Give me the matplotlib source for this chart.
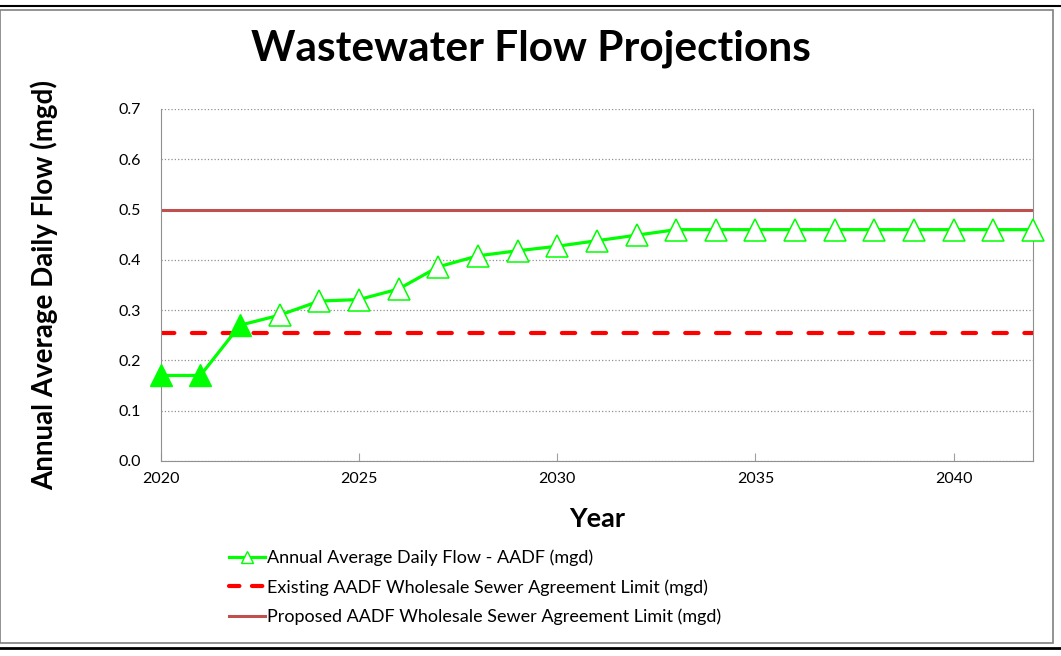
"""Wastewater flow projections chart."""

import matplotlib.pyplot as plt
import numpy as np
from matplotlib.patches import Rectangle
from matplotlib.lines import Line2D

years = np.arange(2020, 2043)
aadf = [0.17, 0.17, 0.27, 0.29, 0.318, 0.321, 0.342, 0.386, 0.408, 0.418,
        0.427, 0.438, 0.449, 0.46, 0.46, 0.46, 0.46, 0.46, 0.46, 0.46,
        0.46, 0.46, 0.46]
# first three years are historic (filled markers)
n_filled = 3
existing_limit = 0.254
proposed_limit = 0.5

plt.rcParams['font.family'] = ['Lato', 'DejaVu Sans']

fig = plt.figure(figsize=(10.61, 6.56), dpi=100)
ax = fig.add_axes([0.1515, 0.2973, 0.8221, 0.5366])

green = '#00ff00'
ax.plot(years, aadf, color=green, lw=2.3, zorder=3, clip_on=False)
ax.plot(years[:n_filled], aadf[:n_filled], ls='none', marker='^', ms=16,
        mfc=green, mec=green, zorder=4, clip_on=False)
ax.plot(years[n_filled:], aadf[n_filled:], ls='none', marker='^', ms=16,
        mfc='white', mec=green, mew=1.1, zorder=4, clip_on=False)

ax.axhline(existing_limit, color='#ff0000', lw=3, dashes=(3.2, 4.2),
           dash_capstyle='round', zorder=2)
ax.axhline(proposed_limit, color='#c0504d', lw=2.2, zorder=2)

ax.set_xlim(2020, 2042)
ax.set_ylim(0, 0.7)
ax.set_xticks(np.arange(2020, 2041, 5))
ax.set_yticks(np.arange(0, 0.71, 0.1))
ax.set_yticklabels([f'{v:.1f}' for v in np.arange(0, 0.71, 0.1)])
ax.tick_params(axis='x', direction='in', length=6, color='#a0a0a0',
               labelsize=11.5, pad=8)
ax.tick_params(axis='y', length=0, labelsize=11.5, pad=14)
ax.grid(axis='y', ls=':', color='#909090', lw=0.9)
for s in ax.spines.values():
    s.set_color('#909090')
ax.spines['top'].set_visible(False)

ax.set_xlabel('Year', fontsize=19.5, fontweight='bold', labelpad=15)
ax.set_ylabel('Annual Average Daily Flow (mgd)', fontsize=20,
              fontweight='bold', labelpad=44)
fig.text(0.5, 0.926, 'Wastewater Flow Projections', ha='center', va='center',
         fontsize=30.5, fontweight='bold')

handles = [
    Line2D([], [], color=green, lw=2.3, marker='^', ms=8, mfc='white',
           mec=green),
    Line2D([], [], color='#ff0000', lw=3, dashes=(2.5, 3), dash_capstyle='round'),
    Line2D([], [], color='#c0504d', lw=2.2),
]
labels = ['Annual Average Daily Flow - AADF (mgd)',
          'Existing AADF Wholesale Sewer Agreement Limit (mgd)',
          'Proposed AADF Wholesale Sewer Agreement Limit (mgd)']
fig.legend(handles, labels, loc='upper left', bbox_to_anchor=(0.207, 0.176),
           frameon=False, fontsize=13, handlelength=2.0, handletextpad=0.1,
           labelspacing=0.72, borderpad=0)

# outer frame
fig.patches.append(Rectangle((0.0, 0.02), 0.992, 0.965, transform=fig.transFigure,
                             fill=False, ec='#808080', lw=1.2))
fig.lines.append(Line2D([0, 1], [0.991, 0.991], transform=fig.transFigure,
                        color='black', lw=1.5))
fig.lines.append(Line2D([0, 1], [0.012, 0.012], transform=fig.transFigure,
                        color='black', lw=2))

fig.savefig('out.png', dpi=100)
